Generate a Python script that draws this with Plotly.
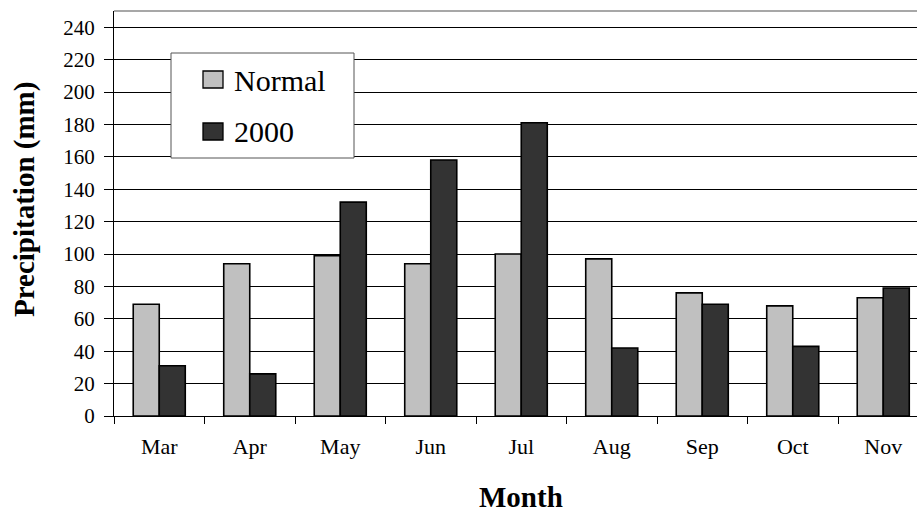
import plotly.graph_objects as go

# Monthly precipitation (mm)
months = ["Mar", "Apr", "May", "Jun", "Jul", "Aug", "Sep", "Oct", "Nov"]
normal = [69, 94, 99, 94, 100, 97, 76, 68, 73]
year_2000 = [31, 26, 132, 158, 181, 42, 69, 43, 79]
series_names = ["Normal", "2000"]
y_ticks = list(range(0, 241, 20))

W, H = 917, 514
L, R, T, B = 114, 0, 11, 98
PW, PH = W - L - R, H - T - B
SERIF = "Liberation Serif"
C_NORMAL = "#C0C0C0"
C_2000 = "#333333"


def px_x(px):
    return (px - L) / PW


def px_y(py):
    return (H - B - py) / PH


fig = go.Figure()
fig.add_trace(go.Bar(x=months, y=normal, name=series_names[0],
                     marker=dict(color=C_NORMAL, line=dict(color="black", width=1.6))))
fig.add_trace(go.Bar(x=months, y=year_2000, name=series_names[1],
                     marker=dict(color=C_2000, line=dict(color="black", width=1.6))))

# visible span ends a little before the last category boundary
x_end = (PW / 90.5) - 0.5

fig.update_layout(
    width=W, height=H,
    margin=dict(l=L, r=R, t=T, b=B),
    paper_bgcolor="white", plot_bgcolor="white",
    barmode="group", bargap=0.425, bargroupgap=0,
    showlegend=False,
    font=dict(family=SERIF, color="black"),
    xaxis=dict(
        type="category", range=[-0.5, x_end],
        tickson="boundaries", ticks="outside", ticklen=7, tickwidth=1,
        tickcolor="black", showline=True, linecolor="black", linewidth=1,
        showgrid=False, tickfont=dict(size=22, family=SERIF),
        ticklabelstandoff=11,
    ),
    yaxis=dict(
        range=[0, 250], tickvals=y_ticks, ticks="outside", ticklen=9,
        tickwidth=1, tickcolor="black", showline=True, linecolor="black",
        linewidth=1, showgrid=True, gridcolor="black", gridwidth=1,
        zeroline=False, tickfont=dict(size=21, family=SERIF),
        ticklabelstandoff=5,
    ),
)

shapes = [
    # top edge of the plot area
    dict(type="line", xref="paper", yref="paper", x0=0, x1=1, y0=1, y1=1,
         line=dict(color="#8a8a8a", width=1.5)),
    # legend box
    dict(type="rect", xref="paper", yref="paper",
         x0=px_x(171), x1=px_x(354), y0=px_y(158), y1=px_y(53),
         fillcolor="white", line=dict(color="#555555", width=1), layer="above"),
    dict(type="rect", xref="paper", yref="paper",
         x0=px_x(203), x1=px_x(223), y0=px_y(88), y1=px_y(71),
         fillcolor=C_NORMAL, line=dict(color="black", width=1.3), layer="above"),
    dict(type="rect", xref="paper", yref="paper",
         x0=px_x(203), x1=px_x(223), y0=px_y(140), y1=px_y(123),
         fillcolor=C_2000, line=dict(color="black", width=1.3), layer="above"),
]
fig.update_layout(shapes=shapes)

annotations = [
    dict(text=series_names[0], xref="paper", yref="paper", x=px_x(232), y=px_y(80),
         xanchor="left", yanchor="middle", showarrow=False,
         font=dict(size=30, family=SERIF, color="black")),
    dict(text=series_names[1], xref="paper", yref="paper", x=px_x(232), y=px_y(131),
         xanchor="left", yanchor="middle", showarrow=False,
         font=dict(size=30, family=SERIF, color="black")),
    dict(text="<b>Precipitation (mm)</b>", xref="paper", yref="paper",
         x=px_x(24), y=px_y(200), textangle=-90, showarrow=False,
         xanchor="center", yanchor="middle",
         font=dict(size=29, family=SERIF, color="black")),
    dict(text="<b>Month</b>", xref="paper", yref="paper",
         x=px_x(521), y=px_y(497), showarrow=False,
         xanchor="center", yanchor="middle",
         font=dict(size=29, family=SERIF, color="black")),
]
fig.update_layout(annotations=annotations)

fig.write_html("out.html")
